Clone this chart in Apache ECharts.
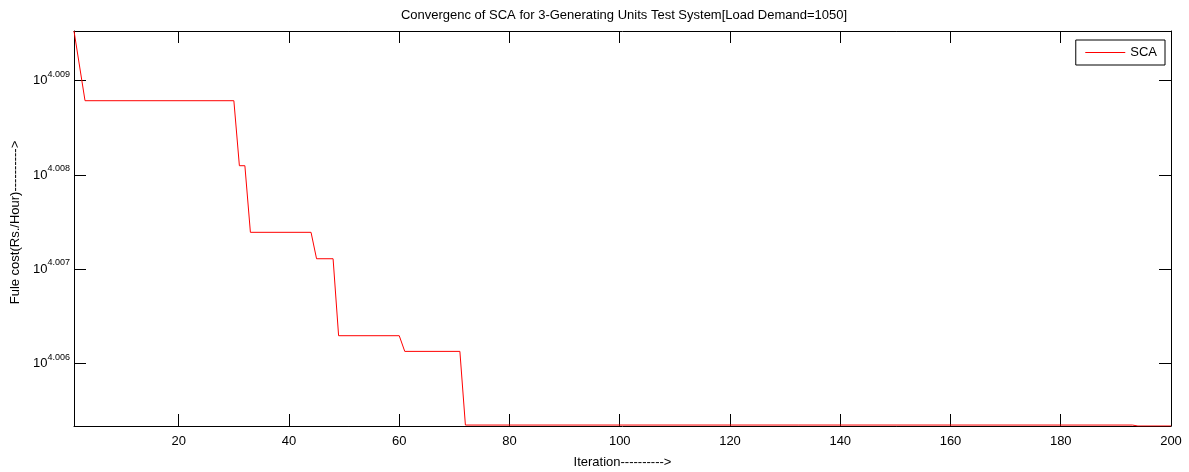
<!DOCTYPE html>
<html>
<head>
<meta charset="utf-8">
<title>Convergence of SCA</title>
<script src="https://cdn.jsdelivr.net/npm/echarts@6/dist/echarts.min.js"></script>
<style>
  html, body { margin: 0; padding: 0; background: #fff; }
  #chart { width: 1189px; height: 472px; }
</style>
</head>
<body>
<div id="chart"></div>
<script>
// iteration numbers where the curve changes (breakpoints)
const iterations = [1, 3, 30, 31, 32, 33, 44, 45, 48, 49, 60, 61, 71, 72, 193, 194, 200];
// log10 of fuel cost at those iterations (axis is logarithmic, labels 10^x)
const logCost = [4.009527, 4.008788, 4.008788, 4.008099, 4.008099, 4.007393, 4.007393,
  4.007113, 4.007113, 4.006297, 4.006297, 4.006131, 4.006131, 4.00535, 4.00535,
  4.00534, 4.00534];
const xTicks = [20, 40, 60, 80, 100, 120, 140, 160, 180, 200];
const yTicks = [4.006, 4.007, 4.008, 4.009];

const xMin = 1, xMax = 200;
const yMin = 4.00534, yMax = 4.009527;

const font = "'Liberation Sans', Arial, Helvetica, sans-serif";

let chart = echarts.init(document.getElementById("chart"));

const tickStyle = { show: true, inside: true, length: 12, lineStyle: { color: "#000", width: 1 } };
const lineStyle = { show: true, lineStyle: { color: "#000", width: 1 } };

let option = {
  animation: false,
  backgroundColor: "#fff",
  textStyle: { fontFamily: font },
  title: {
    text: "Convergenc of SCA for 3-Generating Units Test System[Load Demand=1050]",
    left: 619,
    textAlign: "center",
    top: 4,
    textStyle: { fontFamily: font, fontSize: 13, fontWeight: "normal", color: "#000" }
  },
  legend: {
    right: 24,
    top: 40,
    padding: [6, 8, 6, 9],
    borderColor: "#000",
    borderWidth: 1,
    itemWidth: 40,
    itemHeight: 14,
    itemGap: 6,
    itemStyle: { opacity: 0 },
    lineStyle: { width: 1 },
    textStyle: { fontFamily: font, fontSize: 13, color: "#000" },
    data: [{ name: "SCA" }]
  },
  grid: { left: 74, right: 18, top: 31, bottom: 46, containLabel: false, outerBoundsMode: "none" },
  xAxis: [
    {
      type: "value",
      min: xMin,
      max: xMax,
      name: "Iteration---------->",
      nameLocation: "middle",
      nameGap: 30,
      nameTextStyle: { fontFamily: font, fontSize: 13, color: "#000" },
      axisLine: lineStyle,
      axisTick: Object.assign({}, tickStyle, { customValues: xTicks }),
      axisLabel: { customValues: xTicks, margin: 9, fontSize: 13, color: "#000", fontFamily: font },
      splitLine: { show: false }
    },
    {
      type: "value",
      position: "top",
      min: xMin,
      max: xMax,
      axisLine: lineStyle,
      axisTick: Object.assign({}, tickStyle, { customValues: xTicks }),
      axisLabel: { show: false },
      splitLine: { show: false }
    }
  ],
  yAxis: [
    {
      type: "value",
      min: yMin,
      max: yMax,
      name: "Fule cost(Rs./Hour)---------->",
      nameLocation: "middle",
      nameGap: 48,
      nameTextStyle: { fontFamily: font, fontSize: 13, color: "#000", padding: [0, 0, 0, 12] },
      axisLine: lineStyle,
      axisTick: Object.assign({}, tickStyle, { customValues: yTicks }),
      axisLabel: {
        customValues: yTicks,
        margin: 4,
        color: "#000",
        fontFamily: font,
        formatter: (v) => "{b|10}{s|" + v.toFixed(3) + "}",
        rich: {
          b: { fontSize: 13, fontFamily: font, color: "#000" },
          s: { fontSize: 9, fontFamily: font, color: "#000", padding: [0, 0, 13, 0] }
        }
      },
      splitLine: { show: false }
    },
    {
      type: "value",
      position: "right",
      min: yMin,
      max: yMax,
      axisLine: lineStyle,
      axisTick: Object.assign({}, tickStyle, { customValues: yTicks }),
      axisLabel: { show: false },
      splitLine: { show: false }
    }
  ],
  series: [
    {
      name: "SCA",
      type: "line",
      xAxisIndex: 0,
      yAxisIndex: 0,
      data: iterations.map((it, i) => [it, logCost[i]]),
      symbol: "none",
      lineStyle: { color: "#ff0000", width: 1 },
      itemStyle: { color: "#ff0000" }
    }
  ]
};

chart.setOption(option);
</script>
</body>
</html>
